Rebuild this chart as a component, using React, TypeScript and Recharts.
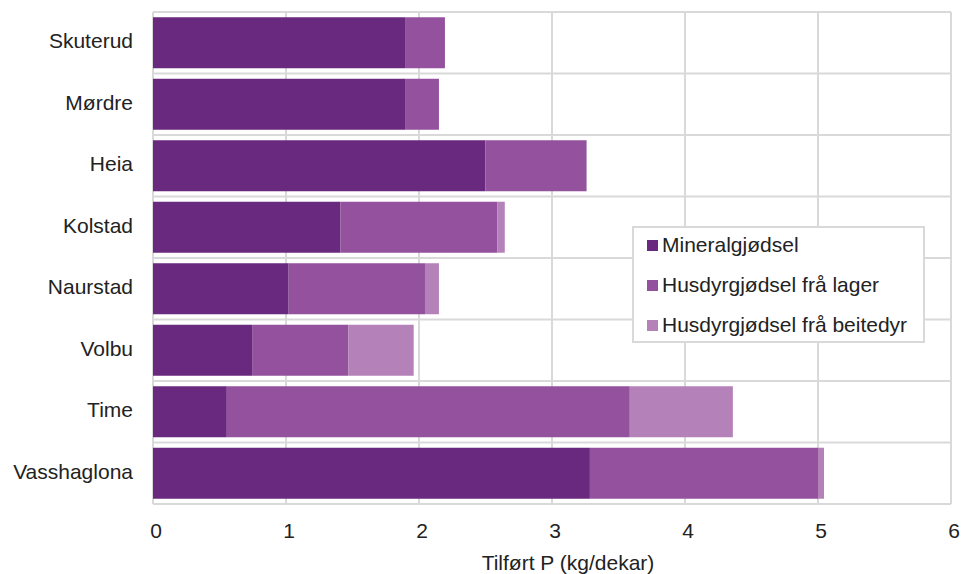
import React from "react";
import { BarChart, Bar, XAxis, YAxis, CartesianGrid } from "recharts";

const categories = ["Skuterud", "Mørdre", "Heia", "Kolstad", "Naurstad", "Volbu", "Time", "Vasshaglona"];
const mineral = [1.895, 1.895, 2.5, 1.41, 1.02, 0.745, 0.555, 3.285];
const lager = [0.3, 0.255, 0.76, 1.18, 1.025, 0.725, 3.03, 1.715];
const beite = [0, 0, 0, 0.055, 0.105, 0.49, 0.775, 0.045];
const xTicks = [0, 1, 2, 3, 4, 5, 6];

const seriesNames = ["Mineralgjødsel", "Husdyrgjødsel frå lager", "Husdyrgjødsel frå beitedyr"];
const colors = ["#68297f", "#94529e", "#b482b8"];

const data = categories.map((c, i) => ({ name: c, mineral: mineral[i], lager: lager[i], beite: beite[i] }));

const FONT = "'Liberation Sans', Arial, sans-serif";
const FS = 21;

const LegendBox = () => (
  <div
    style={{
      position: "absolute",
      left: 632,
      top: 226,
      width: 293,
      height: 117,
      background: "#fff",
      border: "2px solid #d9d9d9",
      boxSizing: "border-box",
      fontFamily: FONT,
      fontSize: FS,
      color: "#222",
    }}
  >
    {seriesNames.map((s, i) => (
      <div
        key={s}
        style={{
          position: "absolute",
          left: 13,
          top: 5 + i * 40,
          height: 24,
          display: "flex",
          alignItems: "center",
          whiteSpace: "nowrap",
        }}
      >
        <span style={{ display: "inline-block", width: 11, height: 11, background: colors[i], marginRight: 4 }} />
        <span>{s}</span>
      </div>
    ))}
  </div>
);

export default function App() {
  const n = categories.length;
  return (
    <div style={{ position: "absolute", left: 0, top: 0, width: 962, height: 574, background: "#fff" }}>
      <BarChart
        width={962}
        height={574}
        data={data}
        layout="vertical"
        margin={{ top: 12, right: 11, left: 0, bottom: 0 }}
        barCategoryGap="8.5%"
      >
        <CartesianGrid
          stroke="#d9d9d9"
          strokeWidth={2}
          horizontalCoordinatesGenerator={(p: any) => {
            const o = p.offset;
            return Array.from({ length: n + 1 }, (_, i) => o.top + (i * o.height) / n);
          }}
        />
        <XAxis
          type="number"
          domain={[0, 6]}
          ticks={xTicks}
          height={70}
          axisLine={false}
          tickLine={false}
          tick={{ fill: "#222", fontSize: FS, fontFamily: FONT, dx: 3 }}
          tickMargin={13}
          label={{
            value: "Tilført P (kg/dekar)",
            position: "insideBottom",
            offset: 4,
            dx: 16,
            style: { fill: "#222", fontSize: FS, fontFamily: FONT },
          }}
        />
        <YAxis
          type="category"
          dataKey="name"
          width={153}
          axisLine={false}
          tickLine={false}
          tick={{ fill: "#222", fontSize: FS, fontFamily: FONT, dy: -2 }}
          tickMargin={14}
        />
        <Bar dataKey="mineral" name={seriesNames[0]} stackId="a" fill={colors[0]} isAnimationActive={false} />
        <Bar dataKey="lager" name={seriesNames[1]} stackId="a" fill={colors[1]} isAnimationActive={false} />
        <Bar dataKey="beite" name={seriesNames[2]} stackId="a" fill={colors[2]} isAnimationActive={false} />
      </BarChart>
      <LegendBox />
    </div>
  );
}
